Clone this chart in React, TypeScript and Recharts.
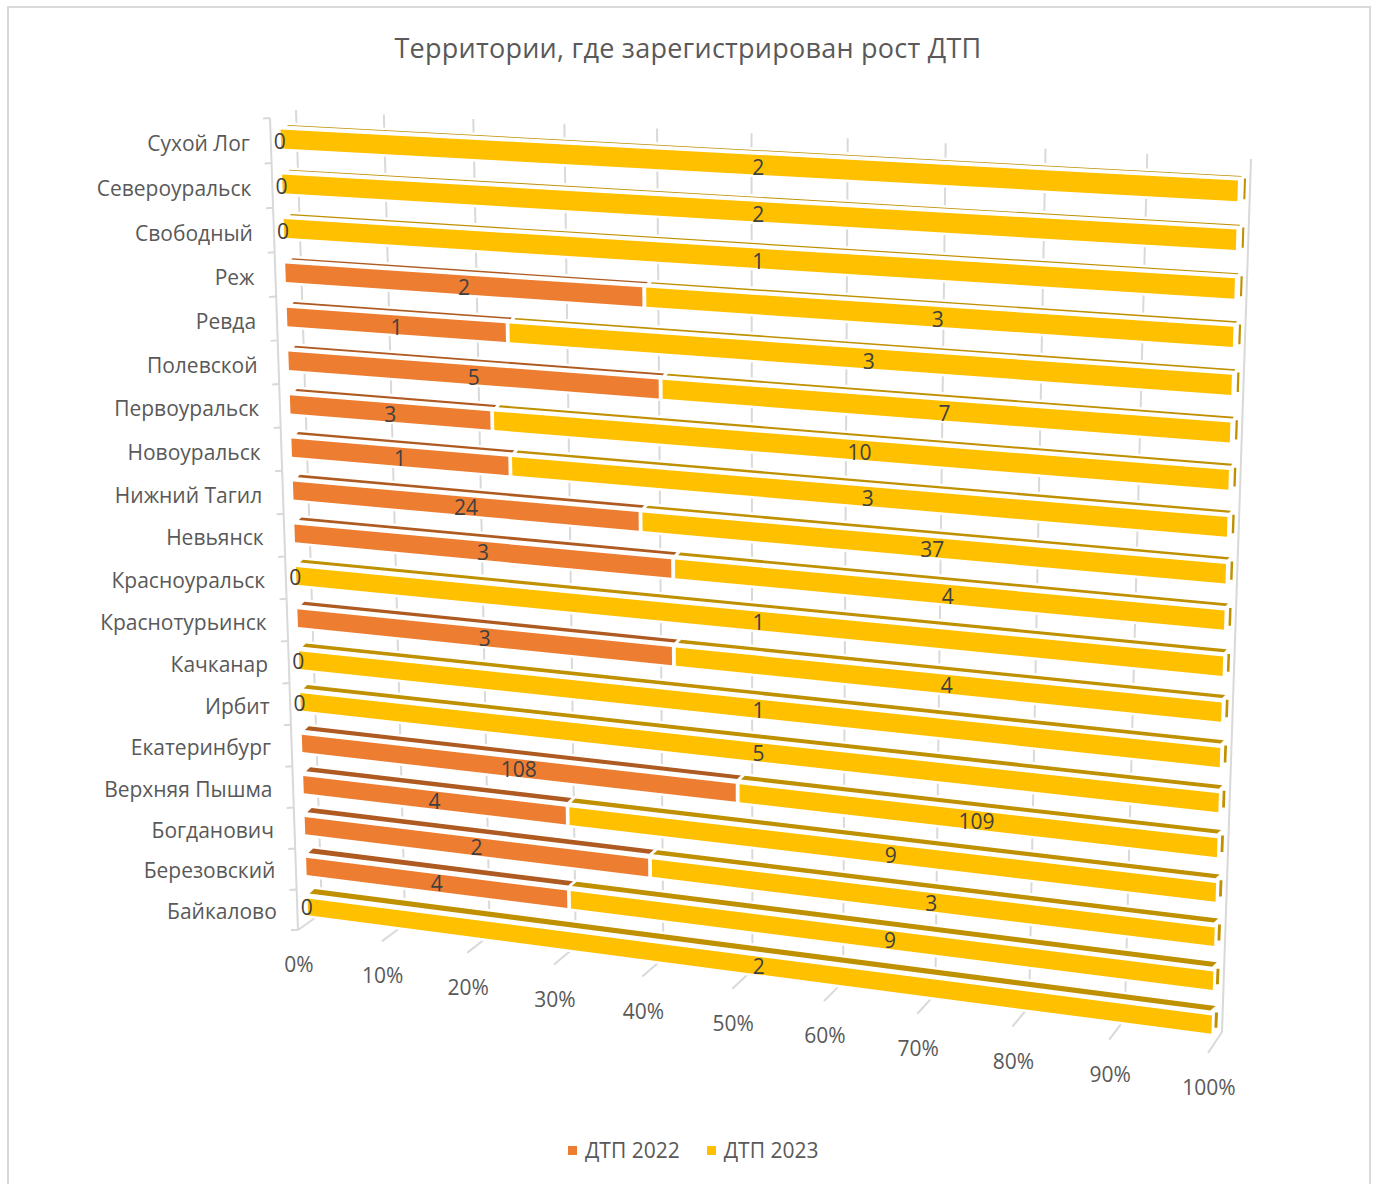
import React from 'react';
import { BarChart, Bar, XAxis, YAxis, CartesianGrid, Legend, LabelList } from 'recharts';

const categories = ['Сухой Лог','Североуральск','Свободный','Реж','Ревда','Полевской','Первоуральск','Новоуральск','Нижний Тагил','Невьянск','Красноуральск','Краснотурьинск','Качканар','Ирбит','Екатеринбург','Верхняя Пышма','Богданович','Березовский','Байкалово'];
const values2022 = [0,0,0,2,1,5,3,1,24,3,0,3,0,0,108,4,2,4,0];
const values2023 = [2,2,1,3,3,7,10,3,37,4,1,4,1,5,109,9,3,9,2];
const percentTicks = [0,0.1,0.2,0.3,0.4,0.5,0.6,0.7,0.8,0.9,1];
const rows = categories.map((name, i) => ({ name, y2022: values2022[i], y2023: values2023[i] }));

const FONT = '"Open Sans", sans-serif';
const W = 1379, H = 1184;
const PL = 281, PW = 957, PT = 100, BAND = 50, BAR = 21;
const GAP_FRAC = (BAND - BAR) / 2 / BAND;
type Pt = [number, number];

function homography(p0: Pt, p1: Pt, p2: Pt, p3: Pt) {
  const dx1 = p1[0]-p2[0], dx2 = p3[0]-p2[0], sx = p0[0]-p1[0]+p2[0]-p3[0];
  const dy1 = p1[1]-p2[1], dy2 = p3[1]-p2[1], sy = p0[1]-p1[1]+p2[1]-p3[1];
  const den = dx1*dy2 - dx2*dy1;
  const g = (sx*dy2 - dx2*sy)/den, h = (dx1*sy - sx*dy1)/den;
  const a = p1[0]-p0[0]+g*p1[0], b = p3[0]-p0[0]+h*p3[0], c = p0[0];
  const d = p1[1]-p0[1]+g*p1[1], e = p3[1]-p0[1]+h*p3[1], f = p0[1];
  return (u: number, v: number): Pt => {
    const q = g*u + h*v + 1;
    return [(a*u+b*v+c)/q, (d*u+e*v+f)/q];
  };
}
// bar tops: u across the value axis, w = 0 first row, w = 1 last row
const front = homography([280.5,129],[1238,180],[1212,1015],[307.5,898]);
const backWall = homography([296,110],[1251,159],[1222,1032],[322,913]);
const projectiveLine = (a: Pt, b: Pt, k: number) => (t: number): Pt => {
  const q = 1 + k*t;
  return [(a[0]*(1-t) + b[0]*t*(1+k))/q, (a[1]*(1-t) + b[1]*t*(1+k))/q];
};
const floorFront = projectiveLine([298,930],[1208,1053],-0.087);
const leftWall = projectiveLine([270,118],[298,930],0.056);
const uOf = (x: number) => (x - PL)/PW;
const wOf = (y: number) => ((y - PT)/BAND - GAP_FRAC)/18;
const lerp = (a: number, b: number, t: number) => a + (b-a)*t;
const pts = (list: Pt[]) => list.map(p => p[0].toFixed(2)+','+p[1].toFixed(2)).join(' ');

const INSET = 2/PW;
function upper(u: number, w: number): Pt {
  const p = front(u, w);
  return [p[0] + lerp(7, 3.5, u), p[1] - (4.5 + 5*w)];
}
function lower(u: number, w: number): Pt {
  const p = front(u, w);
  return [p[0] + lerp(7, 3.5, u) - 5*w, p[1] - (3.8 + 1.2*w)];
}

function Slab(props: any) {
  const { x, y, width, height, fill, dark } = props;
  if (!(width > 0.01)) return null;
  let u0 = uOf(x), u1 = uOf(x + width);
  const w0 = wOf(y), w1 = wOf(y + height);
  const last = u1 > 0.9999;
  if (u0 > 0.0001) u0 += INSET;
  if (!last) u1 -= INSET;
  const faceQuad: Pt[] = [upper(u0,w0), upper(u1,w0), lower(u1,w0), lower(u0,w0)];
  const frontQuad: Pt[] = [front(u0,w0), front(u1,w0), front(u1,w1), front(u0,w1)];
  const hull: Pt[] = [upper(u0,w0), upper(u1,w0), front(u1,w0), front(u1,w1), front(u0,w1), front(u0,w0)];
  const r0 = front(1, w0), r1 = front(1, w1);
  const t = w0;
  const cap: Pt[] = [
    [r0[0]+lerp(6,3,t), r0[1]-2-t],
    [r0[0]+lerp(8,6,t), r0[1]-2-t],
    [r1[0]+lerp(8,6,t), r1[1]-2-4*t],
    [r1[0]+lerp(6,3,t), r1[1]-2-4*t],
  ];
  return (
    <g>
      <polygon points={pts(hull)} fill="#fff" stroke="#fff" strokeWidth={5} strokeLinejoin="round" />
      {last && <polygon points={pts(cap)} fill={dark} />}
      <polygon points={pts(faceQuad)} fill={dark} />
      <polygon points={pts(frontQuad)} fill={fill} />
    </g>
  );
}

function SlabLabel(props: any) {
  const { x, y, width, height, value } = props;
  const u0 = uOf(x), u1 = uOf(x + width), w0 = wOf(y), w1 = wOf(y + height);
  const c: Pt[] = [front(u0,w0), front(u1,w0), front(u1,w1), front(u0,w1)];
  const cx = c.reduce((s,p)=>s+p[0],0)/4, cy = c.reduce((s,p)=>s+p[1],0)/4;
  return (
    <text x={cx-1} y={cy+lerp(2.5,0,w0)} textAnchor="middle" dominantBaseline="central" fontFamily={FONT} fontSize={21} fill="#404040">{value}</text>
  );
}

function gridLine(props: any) {
  const u = uOf(props.x1);
  const a = backWall(u, 0), b = backWall(u, 1), f = floorFront(u);
  const wa = leftWall(0), wb = leftWall(1);
  return (
    <g key={props.key ?? u}>
      <line x1={a[0]} y1={a[1]} x2={b[0]} y2={b[1]} stroke="#D9D9D9" strokeWidth={2} />
      <line x1={b[0]} y1={b[1]} x2={f[0]} y2={f[1]} stroke="#D9D9D9" strokeWidth={2} />
      {u < 0.001 && <line x1={wa[0]} y1={wa[1]} x2={wb[0]} y2={wb[1]} stroke="#D9D9D9" strokeWidth={2} />}
    </g>
  );
}

function CategoryTick(props: any) {
  const { y, payload, index } = props;
  const w = ((y - BAR/2 - PT)/BAND - GAP_FRAC)/18;
  const p = front(0, w + (BAR/BAND)/36);
  const a = leftWall(index/19);
  const b = leftWall(1);
  return (
    <g>
      <line x1={a[0]} y1={a[1]} x2={a[0]-7} y2={a[1]+0.5} stroke="#D9D9D9" strokeWidth={2} />
      {index === categories.length-1 && <line x1={b[0]} y1={b[1]} x2={b[0]-7} y2={b[1]} stroke="#D9D9D9" strokeWidth={2} />}
      <text x={p[0]-31} y={p[1]+4.5} textAnchor="end" dominantBaseline="central" fontFamily={FONT} fontSize={21} fill="#595959">{payload.value}</text>
    </g>
  );
}

function PercentTick(props: any) {
  const { x, payload } = props;
  const f = floorFront(uOf(x));
  return (
    <text x={f[0]+1} y={f[1]+34} textAnchor="middle" dominantBaseline="central" fontFamily={FONT} fontSize={21} fill="#595959">{Math.round(payload.value*100)+'%'}</text>
  );
}

function LegendRow(props: any) {
  const items = props.payload || [];
  return (
    <div style={{ display:'flex', alignItems:'center', fontFamily:FONT, fontSize:21, lineHeight:'30px', color:'#595959' }}>
      {items.map((it: any, i: number) => (
        <span key={it.value} style={{ display:'inline-flex', alignItems:'center', marginRight: i === 0 ? 27 : 0, whiteSpace:'nowrap' }}>
          <span style={{ display:'inline-block', width:9, height:9, background:it.color, marginRight:8 }} />
          {it.value}
        </span>
      ))}
    </div>
  );
}

export default function App() {
  return (
    <div style={{ position:'absolute', left:0, top:0, width:W, height:H, overflow:'hidden', background:'#fff' }}>
      <div style={{ position:'absolute', left:7, top:6, width:1360, height:H, borderLeft:'2px solid #D9D9D9', borderRight:'2px solid #D9D9D9', borderTop:'2px solid #D9D9D9' }} />
      <div style={{ position:'absolute', left:0, top:28, width:1376, textAlign:'center', fontFamily:FONT, fontSize:27, lineHeight:'40px', color:'#595959', letterSpacing:'0.25px' }}>Территории, где зарегистрирован рост ДТП</div>
      <BarChart width={W} height={H} data={rows} layout="vertical" stackOffset="expand" barSize={BAR}
        margin={{ top:PT, right:W-PL-PW, left:0, bottom:0 }} style={{ position:'absolute', left:0, top:0 }}>
        <CartesianGrid horizontal={false} vertical={gridLine} />
        <XAxis type="number" domain={[0,1]} ticks={percentTicks} axisLine={false} tickLine={false} height={H-PT-BAND*19} tick={PercentTick} interval={0} />
        <YAxis type="category" dataKey="name" width={PL} axisLine={false} tickLine={false} tick={CategoryTick} interval={0} />
        <Bar dataKey="y2022" name="ДТП 2022" stackId="a" fill="#ED7D31" isAnimationActive={false} shape={(p: any) => <Slab {...p} dark="#AE5A21" />}>
          <LabelList dataKey="y2022" content={SlabLabel} />
        </Bar>
        <Bar dataKey="y2023" name="ДТП 2023" stackId="a" fill="#FFC000" isAnimationActive={false} shape={(p: any) => <Slab {...p} dark="#BF9000" />}>
          <LabelList dataKey="y2023" content={SlabLabel} />
        </Bar>
        <Legend content={LegendRow}
          wrapperStyle={{ position:'absolute', left:568, top:1135, bottom:'auto', width:300, height:0 }} />
      </BarChart>
    </div>
  );
}
